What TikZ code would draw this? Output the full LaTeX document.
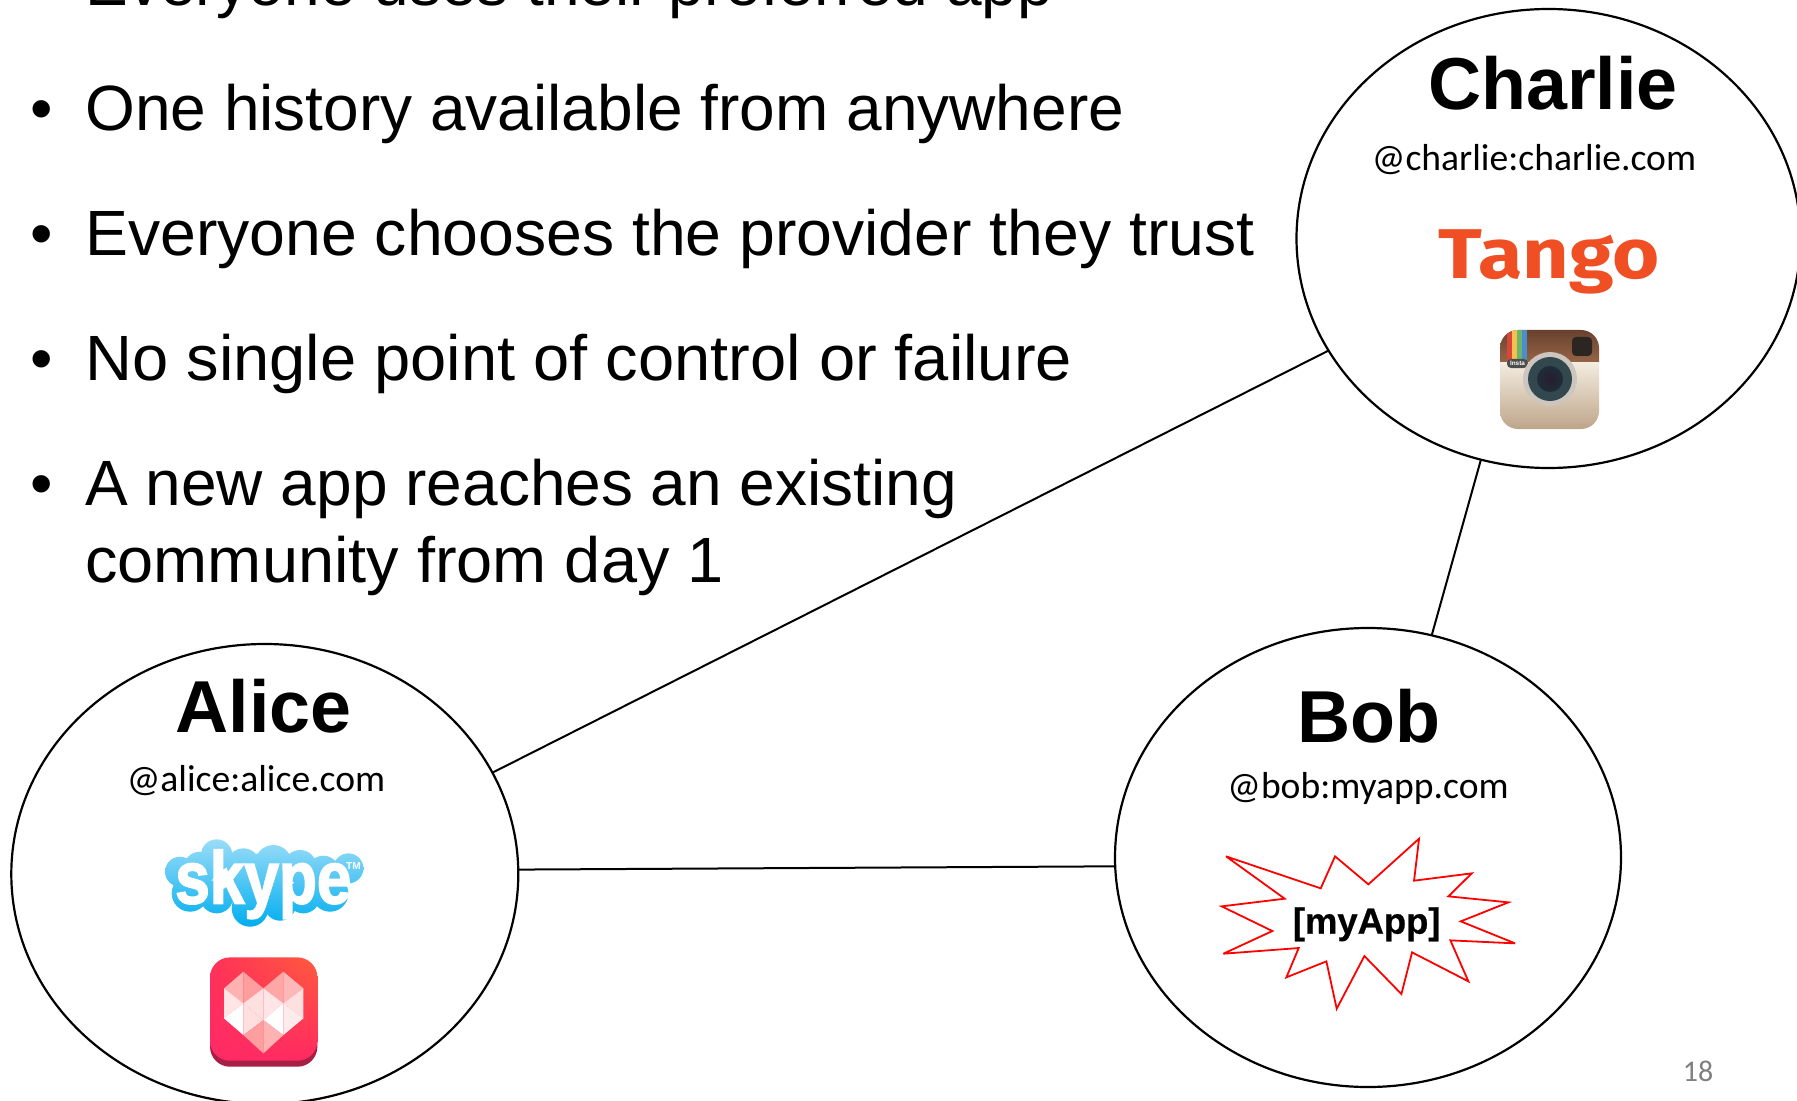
\documentclass[tikz,border=0pt]{standalone}
\usepackage{fontspec}
\usepackage{graphicx}
\usetikzlibrary{shapes.geometric,shadings}
\setmainfont{Liberation Sans}
\newfontfamily\emailfont{Carlito}
\newfontfamily\tangofont{Fira Sans}
\newfontfamily\heavyfont[FakeBold=2.4]{Liberation Sans Bold}
\newfontfamily\semiheavyfont[FakeBold=0.6]{Liberation Sans Bold}
\definecolor{tangoc}{HTML}{F04E23}
\definecolor{skytop}{HTML}{9ADCF8}
\definecolor{skymid}{HTML}{25BBF2}
\definecolor{skybot}{HTML}{00AEEF}
\definecolor{igcreamtop}{RGB}{244,237,224}
\definecolor{igcreambot}{RGB}{190,165,138}
\definecolor{igbrowntop}{RGB}{104,66,46}
\definecolor{igbrownbot}{RGB}{150,100,70}
\definecolor{igred}{RGB}{217,69,58}
\definecolor{igyellow}{RGB}{242,193,78}
\definecolor{iggreen}{RGB}{110,180,106}
\definecolor{igblue}{RGB}{74,143,203}
\definecolor{igfinder}{RGB}{43,38,34}
\definecolor{igring}{RGB}{205,198,190}
\definecolor{iglens}{RGB}{50,72,78}
\definecolor{igcore}{RGB}{40,28,50}
\definecolor{igcoreout}{RGB}{30,45,55}
\definecolor{hrtedge}{RGB}{168,31,69}
\definecolor{hrtur}{RGB}{255,91,61}
\definecolor{hrtul}{RGB}{255,49,88}
\definecolor{hrtll}{RGB}{255,42,102}
\definecolor{hrtlr}{RGB}{255,42,96}
\tikzset{
  person/.style={ellipse,draw=black,line width=1.1pt,inner sep=0pt,outer sep=0pt},
  link/.style={draw=black,line width=1pt},
  bullettext/.style={anchor=base west,inner sep=0pt,font=\fontsize{32}{38}\selectfont},
  bulletdot/.style={anchor=base,inner sep=0pt,font=\fontsize{32}{38}\selectfont},
  title/.style={anchor=base,inner sep=0pt,font=\fontsize{36.8}{40}\selectfont\bfseries},
  handle/.style={anchor=base,inner sep=0pt,font=\emailfont\fontsize{18.8}{22}\selectfont},
}
\begin{document}
\begin{tikzpicture}[x=0.5pt,y=-0.5pt]
\clip (0,0) rectangle (1797,1101);
\fill[white] (0,0) rectangle (1797,1101);
% ellipses
\node[person,minimum width=252pt,minimum height=229.5pt] (charlie) at (1548.5,238.5) {};
\node[person,minimum width=253.5pt,minimum height=230pt] (alice) at (264.8,874) {};
\node[person,minimum width=253pt,minimum height=229.5pt] (bob) at (1368,857.5) {};
% connectors
\draw[link] (alice.24.5) -- (charlie.207.3);
\draw[link] (charlie.253.7) -- (bob.74.6);
\draw[link] (alice.1.0) -- (bob.182.2);
% bullets
\node[bullettext] (t0) at (85,6) {Everyone uses their preferred app};
\node[bulletdot] (b1) at (42,131) {•};
\node[bullettext] (t1) at (85,131) {One history available from anywhere};
\node[bulletdot] (b2) at (42,256) {•};
\node[bullettext] (t2) at (85,256) {\scalebox{1.005}[1]{Everyone chooses the provider they trust}};
\node[bulletdot] (b3) at (42,380.5) {•};
\node[bullettext] (t3) at (85,380.5) {\scalebox{1.016}[1]{No single point of control or failure}};
\node[bulletdot] (b4) at (42,505) {•};
\node[bullettext] (t4) at (85,505) {A new app reaches an existing};
\node[bullettext] (t5) at (85,582) {\scalebox{1.014}[1]{community from day 1}};
% titles
\node[title] (ct) at (1553,110) {Charlie};
\node[title] (at) at (263.5,732) {Alice};
\node[title] (bt) at (1369,742) {Bob};
\node[handle] (ch) at (1534,171) {@charlie:charlie.com};
\node[handle] (ah) at (256,791) {@alice:alice.com};
\node[handle] (bh) at (1368,798) {@bob:myapp.com};
% Tango
\node[inner sep=0pt,text=tangoc] (tango) at (1549,262) {\scalebox{1}[0.87]{\tangofont\bfseries\fontsize{40.5}{44}\selectfont Tango}};
% Instagram
\begin{scope}
\path[rounded corners=9pt,clip] (1500,330) rectangle (1599,429);
\fill[white] (1500,330) rectangle (1599,429);
\shade[top color=igcreamtop,bottom color=igcreambot] (1500,362) rectangle (1599,429);
\shade[top color=igbrowntop,bottom color=igbrownbot] (1500,330) rectangle (1599,362);
\fill[igred] (1507,330) rectangle (1512,360);
\fill[igyellow] (1512,330) rectangle (1517,360);
\fill[iggreen] (1517,330) rectangle (1522,360);
\fill[igblue] (1522,330) rectangle (1527,360);
\fill[igfinder,rounded corners=2pt] (1572,337) rectangle (1592,356);
\fill[black!70,rounded corners=2pt] (1507,359) rectangle (1528,368);
\node[inner sep=0pt,text=white] (insta) at (1517.5,363.5) {\bfseries\fontsize{3.2}{4}\selectfont Insta};
\fill[igring] (1550,379) circle[radius=27];
\fill[iglens] (1550,379) circle[radius=22];
\shade[inner color=igcore,outer color=igcoreout] (1550,379) circle[radius=13];
\end{scope}
% Skype
\begin{scope}[shift={(100,800)},x=0.1667pt,y=-0.1667pt]
\path[shade,top color=skytop,middle color=skymid,bottom color=skybot]
 (240,215) circle[radius=45] (300,205) circle[radius=50] (350,165) circle[radius=47] (430,195) circle[radius=50]
 (520,190) circle[radius=55] (600,200) circle[radius=50] (670,215) circle[radius=48] (745,205) circle[radius=45]
 (270,280) circle[radius=55] (350,290) circle[radius=50] (450,325) circle[radius=55] (540,315) circle[radius=47] (610,290) circle[radius=50] (690,280) circle[radius=55] (480,240) circle[radius=80];
\node[inner sep=0pt,anchor=base,text=white] (skype) at (490,310) {\scalebox{0.84}[1]{\heavyfont\fontsize{37}{40}\selectfont skype}};
\node[inner sep=0pt,text=white] (tm) at (760,198) {\bfseries\fontsize{5}{6}\selectfont TM};
\end{scope}
% heart app
\begin{scope}[shift={(100,800)},x=0.1667pt,y=-0.1667pt]
\fill[rounded corners=10pt,hrtedge] (330,530) rectangle (652,800);
\begin{scope}
\path[rounded corners=10pt,clip] (330,472) rectangle (652,782);
\shade[upper right=hrtur,upper left=hrtul,lower left=hrtll,lower right=hrtlr] (330,472) rectangle (652,782);
\end{scope}
\fill[white!70!red] (430,515)--(372,565)--(430,610)--cycle;
\fill[white!62!red] (430,515)--(490,565)--(430,610)--cycle;
\fill[white!65!red] (550,515)--(490,565)--(550,610)--cycle;
\fill[white!72!red] (550,515)--(610,565)--(550,610)--cycle;
\fill[white!90!red] (372,565)--(430,610)--(372,655)--cycle;
\fill[white!88!red] (430,610)--(490,565)--(490,660)--cycle;
\fill[white!90!red] (490,565)--(550,610)--(490,660)--cycle;
\fill[white!88!red] (550,610)--(610,565)--(610,655)--cycle;
\fill[white] (372,655)--(430,610)--(430,705)--cycle;
\fill[white!88!red] (430,610)--(490,660)--(430,705)--cycle;
\fill[white] (490,660)--(550,610)--(550,705)--cycle;
\fill[white!92!red] (550,610)--(610,655)--(550,705)--cycle;
\fill[white!62!red] (430,705)--(490,660)--(490,760)--cycle;
\fill[white!70!red] (490,660)--(550,705)--(490,760)--cycle;
\end{scope}
% myApp star
\begin{scope}[shift={(1190,811)},x=0.1667pt,y=-0.1667pt]
\draw[red,line width=0.9pt,miter limit=5] (108,136)--(392,232)--(435,136)--(535,220)--(687,83)--(672,209)--(845,187)--(775,256)--(955,274)--(812,331)--(975,397)--(781,388)--(835,511)--(666,424)--(634,549)--(523,435)--(440,593)--(409,451)--(289,499)--(326,411)--(100,428)--(247,360)--(95,286)--(284,263)--cycle;
\node[inner sep=0pt,anchor=base] (myapp) at (530,368) {\semiheavyfont\fontsize{18.2}{20}\selectfont [myApp]};
\end{scope}
\node[inner sep=0pt,text=black!50] (pg) at (1698,1071) {\emailfont\fontsize{15}{18}\selectfont 18};
\end{tikzpicture}
\end{document}
